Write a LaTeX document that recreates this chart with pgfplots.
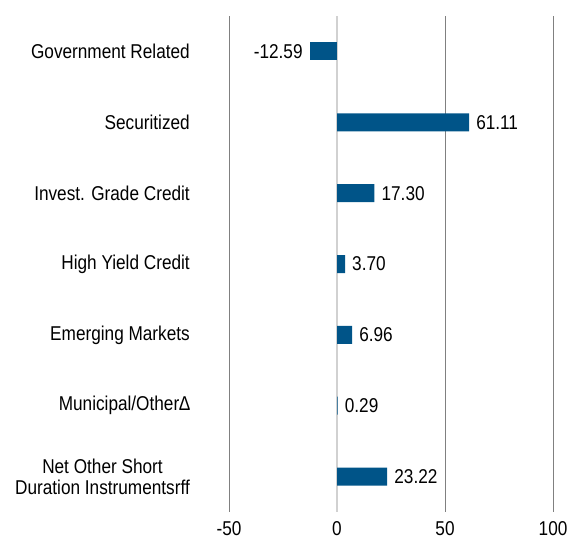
\documentclass[border=0pt]{standalone}
\usepackage{fontspec}
\setmainfont{Liberation Sans}[FakeStretch=0.86]
\usepackage{pgfplots}
\usepackage{pgfplotstable}
\pgfplotsset{compat=1.18}
\definecolor{barblue}{RGB}{0,84,136}
\pgfplotstableread{
y x lab
1 61.11 61.11
2 17.30 17.30
3 3.70 3.70
4 6.96 6.96
5 0.29 0.29
6 23.22 23.22
}\postable
\pgfplotstableread{
y x lab
0 -12.59 -12.59
}\negtable
\begin{document}
\begin{tikzpicture}[x=1pt,y=1pt]
\useasboundingbox (-229,-33) rectangle (339,512);
\begin{axis}[
  at={(0,0)}, anchor=south west,
  scale only axis,
  width=339pt, height=496pt,
  xmin=-50, xmax=106.9,
  ymin=-0.5, ymax=6.5,
  y dir=reverse,
  axis line style={draw=none},
  xbar, bar width=18pt,
  bar shift=0pt,
  xtick={-50,50,100},
  xticklabels={-50,50,100},
  extra x ticks={0},
  extra x tick labels={0},
  extra x tick style={grid=major, major grid style={draw=black!18, line width=1.6pt}},
  xmajorgrids,
  major grid style={draw=black!50, line width=0.8pt},
  major tick length=0pt,
  ytick={0,1,2,3,4,5,6},
  yticklabels={Government Related,Securitized,Invest. Grade Credit,High Yield Credit,Emerging Markets,Municipal/Other∆,{Net Other Short\\Duration Instrumentsrff}},
  yticklabel style={font=\fontsize{20}{21}\selectfont, align=center, inner sep=0pt, xshift=-39pt},
  xticklabel style={font=\fontsize{20}{21}\selectfont, yshift=-6pt},
  /pgf/number format/assume math mode=true,
  point meta=explicit symbolic,
  clip=false,
]
\addplot[fill=barblue, draw=none, nodes near coords,
  every node near coord/.style={font=\fontsize{20}{21}\selectfont, text=black, inner sep=7pt, anchor=west}]
  table[x=x, y=y, meta=lab] {\postable};
\addplot[fill=barblue, draw=none, nodes near coords,
  every node near coord/.style={font=\fontsize{20}{21}\selectfont, text=black, inner sep=7pt, anchor=east}]
  table[x=x, y=y, meta=lab] {\negtable};
\end{axis}
\end{tikzpicture}
\end{document}
